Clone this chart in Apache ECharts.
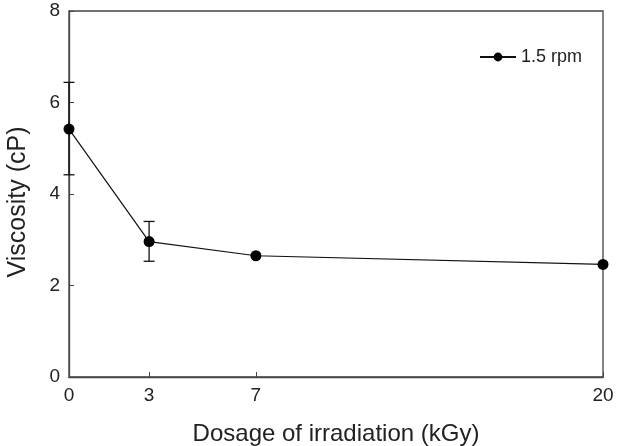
<!DOCTYPE html>
<html>
<head>
<meta charset="utf-8">
<script src="https://cdn.jsdelivr.net/npm/echarts@6/dist/echarts.min.js"></script>
<style>
  html, body { margin: 0; padding: 0; background: #fff; }
  #chart { width: 631px; height: 446px; }
</style>
</head>
<body>
<div id="chart"></div>
<script>
const doses = [0, 3, 7, 20]
const viscosity = [5.42, 2.96, 2.65, 2.46]
const errLow = [4.42, 2.53, null, null]
const errHigh = [6.44, 3.40, null, null]
const xTicks = [0, 3, 7, 20]
const seriesName = '1.5 rpm'

const chart = echarts.init(document.getElementById('chart'))
const axisColor = '#444'
const textColor = '#222'
const font = 'Liberation Sans'

const lineData = doses.map((d, i) => [d, viscosity[i]])
const errData = doses
  .map((d, i) => [d, errLow[i], errHigh[i]])
  .filter((e) => e[1] != null)

chart.setOption({
  animation: false,
  grid: {
    left: 69, right: 28, top: 11, bottom: 69,
    containLabel: false, outerBoundsMode: 'none',
    show: true, borderColor: axisColor, borderWidth: 1.3,
  },
  legend: {
    left: 474, top: 43,
    itemWidth: 36, itemHeight: 11, itemGap: 6,
    textStyle: { fontFamily: font, fontSize: 18, color: textColor },
    data: [seriesName],
  },
  xAxis: {
    type: 'value', min: 0, max: 20,
    name: 'Dosage of irradiation (kGy)',
    nameLocation: 'middle', nameGap: 45,
    nameTextStyle: { fontFamily: font, fontSize: 24, color: textColor },
    axisLine: { lineStyle: { color: axisColor, width: 1.3 } },
    axisTick: { inside: true, length: 5, customValues: xTicks, lineStyle: { color: axisColor } },
    axisLabel: { customValues: xTicks, margin: 9, fontFamily: font, fontSize: 19, color: textColor },
    splitLine: { show: false },
  },
  yAxis: {
    type: 'value', min: 0, max: 8, interval: 2,
    name: 'Viscosity (cP)',
    nameLocation: 'middle', nameGap: 38,
    nameTextStyle: { fontFamily: font, fontSize: 25, color: textColor, padding: [0, 16, 0, 0] },
    axisLine: { show: true, lineStyle: { color: axisColor, width: 1.3 } },
    axisTick: { show: true, inside: true, length: 5, lineStyle: { color: axisColor } },
    axisLabel: { margin: 9, fontFamily: font, fontSize: 19, color: textColor },
    splitLine: { show: false },
  },
  series: [
    {
      type: 'custom',
      name: 'err',
      data: errData,
      z: 1,
      renderItem: (params, api) => {
        const top = api.coord([api.value(0), api.value(2)])
        const bot = api.coord([api.value(0), api.value(1)])
        const w = 5.5
        const style = { stroke: '#111', lineWidth: 1.3 }
        return {
          type: 'group',
          children: [
            { type: 'line', shape: { x1: top[0], y1: top[1], x2: bot[0], y2: bot[1] }, style },
            { type: 'line', shape: { x1: top[0] - w, y1: top[1], x2: top[0] + w, y2: top[1] }, style },
            { type: 'line', shape: { x1: bot[0] - w, y1: bot[1], x2: bot[0] + w, y2: bot[1] }, style },
          ],
        }
      },
    },
    {
      type: 'line',
      name: seriesName,
      data: lineData,
      z: 2,
      symbol: 'circle',
      symbolSize: 11,
      lineStyle: { color: '#111', width: 1.2 },
      itemStyle: { color: '#000' },
    },
  ],
})
</script>
</body>
</html>
